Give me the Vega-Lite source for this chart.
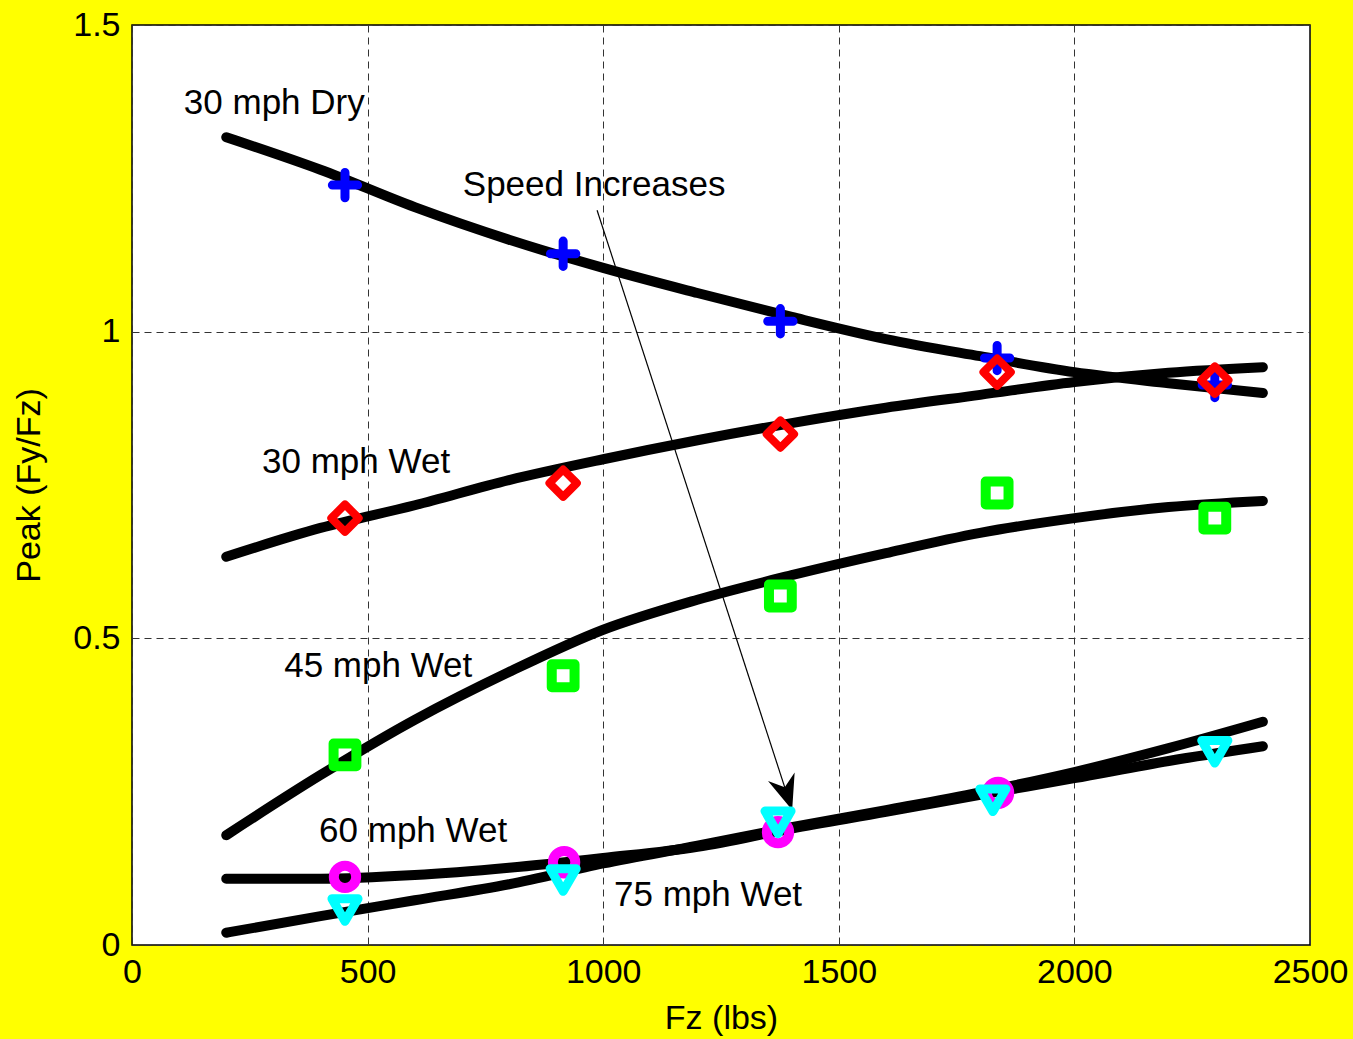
{
  "$schema": "https://vega.github.io/schema/vega-lite/v6.json",
  "width": 1178,
  "height": 920,
  "autosize": "none",
  "padding": {"left": 132, "top": 25, "right": 43, "bottom": 94},
  "background": "#FFFF00",
  "config": {
    "view": {"fill": "white", "stroke": "black", "strokeWidth": 1.5},
    "font": "Liberation Sans"
  },
  "datasets": {
    "curves": [
      {"series": "30 mph Dry", "x": 200, "y": 1.317},
      {"series": "30 mph Dry", "x": 400, "y": 1.264},
      {"series": "30 mph Dry", "x": 600, "y": 1.203},
      {"series": "30 mph Dry", "x": 800, "y": 1.150},
      {"series": "30 mph Dry", "x": 1000, "y": 1.104},
      {"series": "30 mph Dry", "x": 1200, "y": 1.063},
      {"series": "30 mph Dry", "x": 1400, "y": 1.024},
      {"series": "30 mph Dry", "x": 1600, "y": 0.988},
      {"series": "30 mph Dry", "x": 1800, "y": 0.960},
      {"series": "30 mph Dry", "x": 2000, "y": 0.934},
      {"series": "30 mph Dry", "x": 2200, "y": 0.916},
      {"series": "30 mph Dry", "x": 2400, "y": 0.900},
      {"series": "30 mph Wet", "x": 200, "y": 0.633},
      {"series": "30 mph Wet", "x": 400, "y": 0.680},
      {"series": "30 mph Wet", "x": 600, "y": 0.717},
      {"series": "30 mph Wet", "x": 800, "y": 0.758},
      {"series": "30 mph Wet", "x": 1000, "y": 0.792},
      {"series": "30 mph Wet", "x": 1200, "y": 0.823},
      {"series": "30 mph Wet", "x": 1400, "y": 0.851},
      {"series": "30 mph Wet", "x": 1600, "y": 0.876},
      {"series": "30 mph Wet", "x": 1800, "y": 0.897},
      {"series": "30 mph Wet", "x": 2000, "y": 0.918},
      {"series": "30 mph Wet", "x": 2200, "y": 0.933},
      {"series": "30 mph Wet", "x": 2400, "y": 0.942},
      {"series": "45 mph Wet", "x": 200, "y": 0.179},
      {"series": "45 mph Wet", "x": 400, "y": 0.277},
      {"series": "45 mph Wet", "x": 600, "y": 0.367},
      {"series": "45 mph Wet", "x": 800, "y": 0.445},
      {"series": "45 mph Wet", "x": 1000, "y": 0.514},
      {"series": "45 mph Wet", "x": 1200, "y": 0.563},
      {"series": "45 mph Wet", "x": 1400, "y": 0.603},
      {"series": "45 mph Wet", "x": 1600, "y": 0.639},
      {"series": "45 mph Wet", "x": 1800, "y": 0.672},
      {"series": "45 mph Wet", "x": 2000, "y": 0.696},
      {"series": "45 mph Wet", "x": 2200, "y": 0.714},
      {"series": "45 mph Wet", "x": 2400, "y": 0.724},
      {"series": "60 mph Wet", "x": 200, "y": 0.108},
      {"series": "60 mph Wet", "x": 400, "y": 0.108},
      {"series": "60 mph Wet", "x": 600, "y": 0.114},
      {"series": "60 mph Wet", "x": 800, "y": 0.126},
      {"series": "60 mph Wet", "x": 1000, "y": 0.142},
      {"series": "60 mph Wet", "x": 1200, "y": 0.160},
      {"series": "60 mph Wet", "x": 1400, "y": 0.190},
      {"series": "60 mph Wet", "x": 1600, "y": 0.217},
      {"series": "60 mph Wet", "x": 1800, "y": 0.245},
      {"series": "60 mph Wet", "x": 2000, "y": 0.272},
      {"series": "60 mph Wet", "x": 2200, "y": 0.300},
      {"series": "60 mph Wet", "x": 2400, "y": 0.324},
      {"series": "75 mph Wet", "x": 200, "y": 0.020},
      {"series": "75 mph Wet", "x": 400, "y": 0.047},
      {"series": "75 mph Wet", "x": 600, "y": 0.073},
      {"series": "75 mph Wet", "x": 800, "y": 0.099},
      {"series": "75 mph Wet", "x": 1000, "y": 0.133},
      {"series": "75 mph Wet", "x": 1200, "y": 0.162},
      {"series": "75 mph Wet", "x": 1400, "y": 0.192},
      {"series": "75 mph Wet", "x": 1600, "y": 0.220},
      {"series": "75 mph Wet", "x": 1800, "y": 0.249},
      {"series": "75 mph Wet", "x": 2000, "y": 0.282},
      {"series": "75 mph Wet", "x": 2200, "y": 0.321},
      {"series": "75 mph Wet", "x": 2400, "y": 0.364}
    ],
    "points": [
      {"series": "30 mph Dry", "x": 452, "y": 1.239},
      {"series": "30 mph Dry", "x": 915, "y": 1.127},
      {"series": "30 mph Dry", "x": 1376, "y": 1.017},
      {"series": "30 mph Dry", "x": 1836, "y": 0.957},
      {"series": "30 mph Dry", "x": 2298, "y": 0.913},
      {"series": "30 mph Wet", "x": 452, "y": 0.696},
      {"series": "30 mph Wet", "x": 915, "y": 0.753},
      {"series": "30 mph Wet", "x": 1376, "y": 0.833},
      {"series": "30 mph Wet", "x": 1836, "y": 0.934},
      {"series": "30 mph Wet", "x": 2298, "y": 0.921},
      {"series": "45 mph Wet", "x": 452, "y": 0.310},
      {"series": "45 mph Wet", "x": 915, "y": 0.439},
      {"series": "45 mph Wet", "x": 1376, "y": 0.569},
      {"series": "45 mph Wet", "x": 1836, "y": 0.737},
      {"series": "45 mph Wet", "x": 2298, "y": 0.696},
      {"series": "60 mph Wet", "x": 452, "y": 0.111},
      {"series": "60 mph Wet", "x": 917, "y": 0.135},
      {"series": "60 mph Wet", "x": 1371, "y": 0.184},
      {"series": "60 mph Wet", "x": 1838, "y": 0.248},
      {"series": "75 mph Wet", "x": 452, "y": 0.057},
      {"series": "75 mph Wet", "x": 915, "y": 0.106},
      {"series": "75 mph Wet", "x": 1371, "y": 0.200},
      {"series": "75 mph Wet", "x": 1827, "y": 0.236},
      {"series": "75 mph Wet", "x": 2298, "y": 0.315}
    ],
    "labels": [
      {"label": "30 mph Dry", "x": 110, "y": 1.373},
      {"label": "Speed Increases", "x": 702, "y": 1.239},
      {"label": "30 mph Wet", "x": 276, "y": 0.788},
      {"label": "45 mph Wet", "x": 323, "y": 0.455},
      {"label": "60 mph Wet", "x": 397, "y": 0.186},
      {"label": "75 mph Wet", "x": 1023, "y": 0.0815}
    ],
    "arrow": [
      {"x": 987, "y": 1.198, "x2": 1401, "y2": 0.220}
    ]
  },
  "layer": [
    {
      "data": {"name": "curves"},
      "mark": {"type": "line", "color": "black", "strokeWidth": 10, "strokeCap": "round", "strokeJoin": "round", "interpolate": "monotone"},
      "encoding": {
        "x": {
          "field": "x", "type": "quantitative", "title": "Fz (lbs)",
          "scale": {"domain": [0, 2500], "nice": false, "zero": false},
          "axis": {
            "values": [0, 500, 1000, 1500, 2000, 2500], "format": "d",
            "grid": true, "gridDash": [7, 5], "gridColor": "#333333", "gridWidth": 1,
            "domain": false, "ticks": false, "labelPadding": 10, "labelFlush": false, "labelOverlap": false,
            "labelFontSize": 34, "labelColor": "black", "labelFont": "Liberation Sans",
            "titleFontSize": 34, "titleFontWeight": "normal", "titleColor": "black", "titleFont": "Liberation Sans",
            "titlePadding": 12
          }
        },
        "y": {
          "field": "y", "type": "quantitative", "title": "Peak (Fy/Fz)",
          "scale": {"domain": [0, 1.5], "nice": false},
          "axis": {
            "values": [0, 0.5, 1, 1.5], "format": "~g",
            "grid": true, "gridDash": [7, 5], "gridColor": "#333333", "gridWidth": 1,
            "domain": false, "ticks": false, "labelPadding": 12, "labelFlush": false, "labelOverlap": false,
            "labelFontSize": 34, "labelColor": "black", "labelFont": "Liberation Sans",
            "titleFontSize": 34, "titleFontWeight": "normal", "titleColor": "black", "titleFont": "Liberation Sans",
            "titlePadding": 26
          }
        },
        "detail": {"field": "series"}
      }
    },
    {
      "data": {"name": "arrow"},
      "mark": {"type": "rule", "color": "black", "strokeWidth": 1.2},
      "encoding": {
        "x": {"field": "x", "type": "quantitative", "title": "Fz (lbs)"},
        "y": {"field": "y", "type": "quantitative", "title": "Peak (Fy/Fz)"},
        "x2": {"field": "x2"},
        "y2": {"field": "y2"}
      }
    },
    {
      "data": {"name": "arrow"},
      "mark": {"type": "point", "shape": "M0,0L-0.7,-1.75L0,-1.2L0.7,-1.75Z", "size": 1600, "filled": true, "color": "black", "opacity": 1, "angle": 342},
      "encoding": {
        "x": {"field": "x2", "type": "quantitative", "title": "Fz (lbs)"},
        "y": {"field": "y2", "type": "quantitative", "title": "Peak (Fy/Fz)"}
      }
    },
    {
      "data": {"name": "points"},
      "transform": [{"filter": "datum.series === '30 mph Dry'"}],
      "mark": {"type": "point", "shape": "M-1,0L1,0M0,-1L0,1", "size": 640, "filled": false, "stroke": "#0000FF", "strokeWidth": 9, "strokeCap": "round", "opacity": 1},
      "encoding": {
        "x": {"field": "x", "type": "quantitative", "title": "Fz (lbs)"},
        "y": {"field": "y", "type": "quantitative", "title": "Peak (Fy/Fz)"}
      }
    },
    {
      "data": {"name": "points"},
      "transform": [{"filter": "datum.series === '30 mph Wet'"}],
      "mark": {"type": "point", "shape": "diamond", "size": 750, "filled": false, "stroke": "#FF0000", "strokeWidth": 8, "strokeJoin": "round", "opacity": 1},
      "encoding": {
        "x": {"field": "x", "type": "quantitative", "title": "Fz (lbs)"},
        "y": {"field": "y", "type": "quantitative", "title": "Peak (Fy/Fz)"}
      }
    },
    {
      "data": {"name": "points"},
      "transform": [{"filter": "datum.series === '45 mph Wet'"}],
      "mark": {"type": "point", "shape": "square", "size": 520, "filled": false, "stroke": "#00FF00", "strokeWidth": 10, "strokeJoin": "round", "opacity": 1},
      "encoding": {
        "x": {"field": "x", "type": "quantitative", "title": "Fz (lbs)"},
        "y": {"field": "y", "type": "quantitative", "title": "Peak (Fy/Fz)"}
      }
    },
    {
      "data": {"name": "points"},
      "transform": [{"filter": "datum.series === '60 mph Wet'"}],
      "mark": {"type": "point", "shape": "circle", "size": 500, "filled": false, "stroke": "#FF00FF", "strokeWidth": 10, "opacity": 1},
      "encoding": {
        "x": {"field": "x", "type": "quantitative", "title": "Fz (lbs)"},
        "y": {"field": "y", "type": "quantitative", "title": "Peak (Fy/Fz)"}
      }
    },
    {
      "data": {"name": "points"},
      "transform": [{"filter": "datum.series === '75 mph Wet'"}],
      "mark": {"type": "point", "shape": "triangle-down", "size": 680, "filled": false, "stroke": "#00FFFF", "strokeWidth": 9, "strokeJoin": "round", "opacity": 1},
      "encoding": {
        "x": {"field": "x", "type": "quantitative", "title": "Fz (lbs)"},
        "y": {"field": "y", "type": "quantitative", "title": "Peak (Fy/Fz)"}
      }
    },
    {
      "data": {"name": "labels"},
      "mark": {"type": "text", "align": "left", "baseline": "middle", "fontSize": 35, "font": "Liberation Sans", "color": "black"},
      "encoding": {
        "x": {"field": "x", "type": "quantitative", "title": "Fz (lbs)"},
        "y": {"field": "y", "type": "quantitative", "title": "Peak (Fy/Fz)"},
        "text": {"field": "label"}
      }
    }
  ]
}
